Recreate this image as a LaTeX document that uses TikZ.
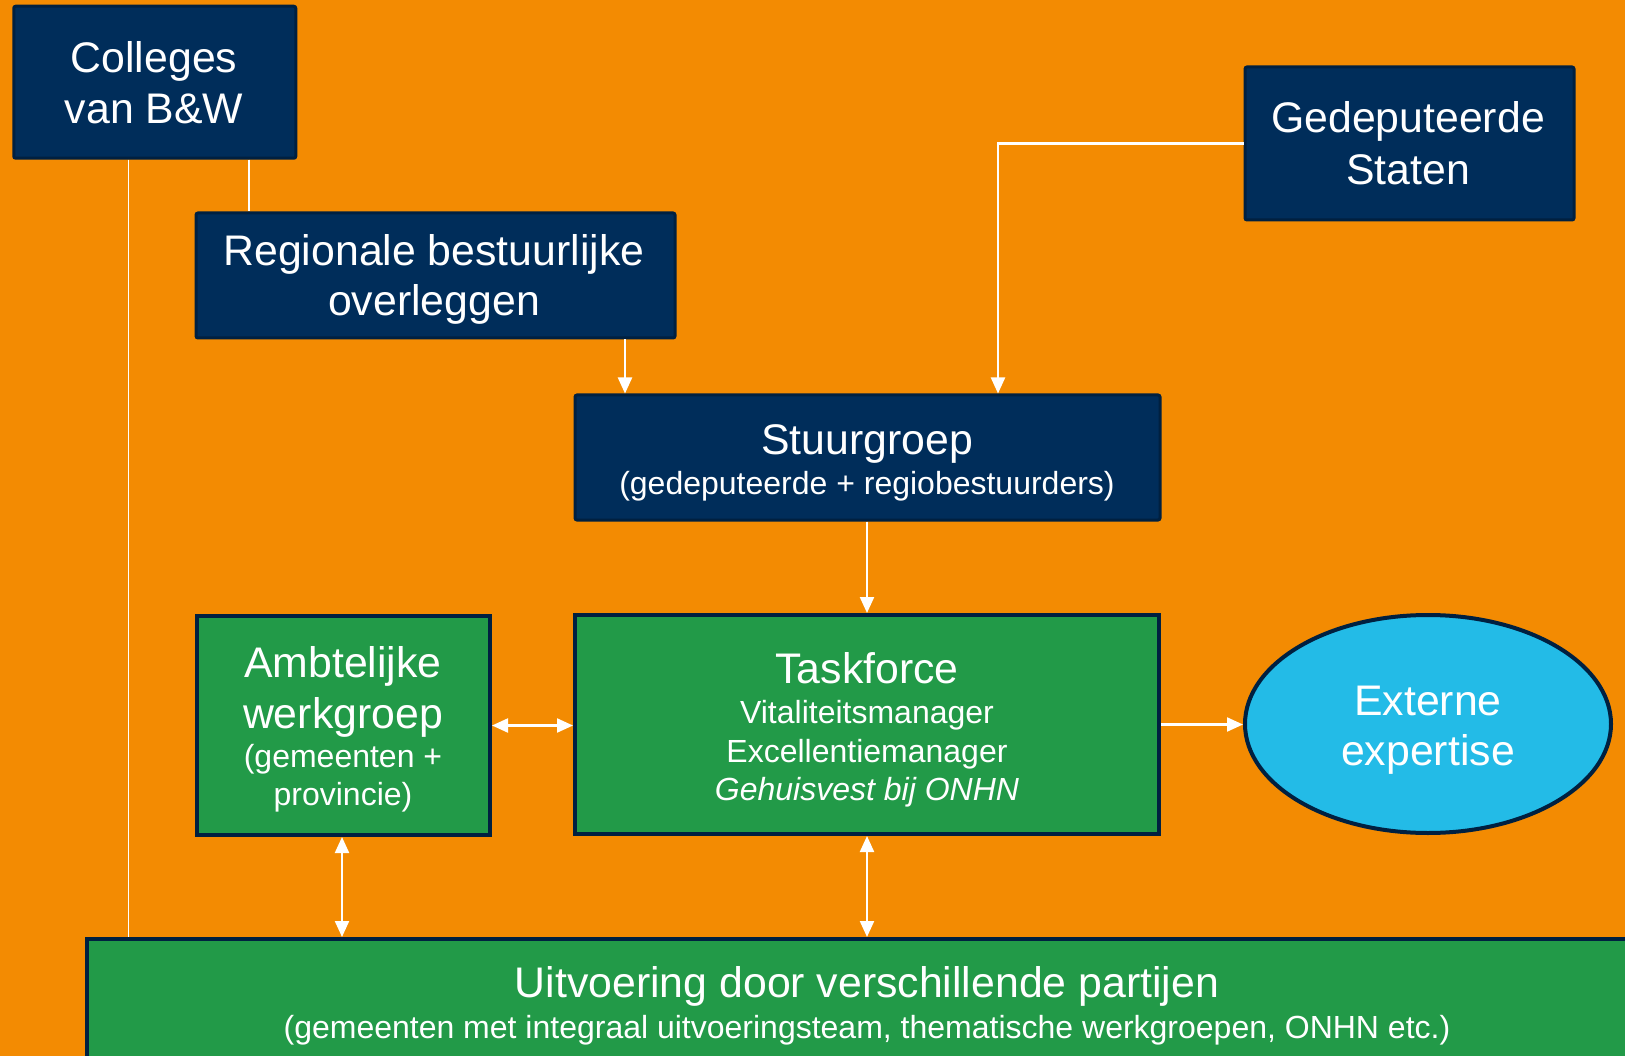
\documentclass[tikz,border=0pt]{standalone}
\usepackage{fontspec}
\setmainfont{Liberation Sans}
\usetikzlibrary{shapes.geometric,arrows.meta}
\definecolor{bgorange}{RGB}{243,139,2}
\definecolor{navyfill}{RGB}{0,45,90}
\definecolor{navyline}{RGB}{0,32,64}
\definecolor{boxgreen}{RGB}{34,154,72}
\definecolor{skyblue}{RGB}{35,187,231}
\tikzset{
  navybox/.style={rectangle, rounded corners=2pt, draw=navyline, line width=3pt, fill=navyfill, inner sep=0pt},
  greenbox/.style={rectangle, draw=navyline, line width=4pt, fill=boxgreen, inner sep=0pt},
  bigtxt/.style={text=white, anchor=base, inner sep=0pt, font=\fontsize{42.8}{50}\selectfont},
  smalltxt/.style={text=white, anchor=base, inner sep=0pt, font=\fontsize{32}{38}\selectfont},
  conn/.style={draw=white, line width=2.2pt, -{Triangle[width=14pt,length=16pt]}},
  dconn/.style={draw=white, line width=2.2pt, {Triangle[width=14pt,length=16pt]}-{Triangle[width=14pt,length=16pt]}},
  thinline/.style={draw=white, line width=1.6pt}
}
\begin{document}
\begin{tikzpicture}[x=1pt,y=-1pt]
\path[use as bounding box, fill=bgorange] (0,0) rectangle (1625,1056);
\clip (0,0) rectangle (1625,1056);

% boxes
\node[navybox, minimum width=282pt, minimum height=152pt] (col) at (154.75,82.25) {};
\node[navybox, minimum width=479pt, minimum height=125pt] (reg) at (435.5,275.5) {};
\node[navybox, minimum width=329pt, minimum height=153pt] (ged) at (1409.5,143.5) {};
\node[navybox, minimum width=585pt, minimum height=125pt] (stu) at (867.5,457.5) {};
\node[greenbox, minimum width=293pt, minimum height=219pt] (amb) at (343.5,725.5) {};
\node[greenbox, minimum width=584pt, minimum height=219pt] (task) at (867,724.5) {};
\node[ellipse, draw=navyline, line width=4pt, fill=skyblue, inner sep=0pt, minimum width=366pt, minimum height=218pt] (ext) at (1428,724) {};
\node[greenbox, minimum width=1560pt, minimum height=136pt] (uit) at (867,1007) {};

% texts
\node[bigtxt] (colA) at (154,73) {Colleges};
\node[bigtxt] (colB) at (154,124) {van B\&W};
\node[bigtxt] (regA) at (434,266) {Regionale bestuurlijke};
\node[bigtxt] (regB) at (434,316) {overleggen};
\node[bigtxt] (gedA) at (1408,133) {Gedeputeerde};
\node[bigtxt] (gedB) at (1408,185) {Staten};
\node[bigtxt] (stuA) at (867,454) {Stuurgroep};
\node[smalltxt] (stuB) at (867,494) {(gedeputeerde + regiobestuurders)};
\node[bigtxt] (ambA) at (343,677) {Ambtelijke};
\node[bigtxt] (ambB) at (343,728) {werkgroep};
\node[smalltxt] (ambC) at (343,767) {(gemeenten +};
\node[smalltxt] (ambD) at (343,805) {provincie)};
\node[bigtxt] (taskA) at (867,683) {Taskforce};
\node[smalltxt] (taskB) at (867,723) {Vitaliteitsmanager};
\node[smalltxt] (taskC) at (867,762) {Excellentiemanager};
\node[smalltxt] (taskD) at (867,800) {\itshape Gehuisvest bij ONHN};
\node[bigtxt] (extA) at (1428,715) {Externe};
\node[bigtxt] (extB) at (1428,765) {expertise};
\node[bigtxt] (uitA) at (867,997) {Uitvoering door verschillende partijen};
\node[smalltxt] (uitB) at (867,1038) {(gemeenten met integraal uitvoeringsteam, thematische werkgroepen, ONHN etc.)};

% connector x positions
\coordinate (xa) at (128.5,0);
\coordinate (xb) at (249,0);
\coordinate (xc) at (625,0);
\coordinate (xd) at (998,0);
\coordinate (xe) at (867,0);
\coordinate (xf) at (342,0);

% connectors
\draw[thinline] (col.south -| xa) -- (uit.north -| xa);
\draw[thinline] (col.south -| xb) -- (reg.north -| xb);
\draw[conn] (reg.south -| xc) -- (stu.north -| xc);
\draw[conn] (ged.west) -| (stu.north -| xd);
\draw[conn] (stu.south -| xe) -- (task.north -| xe);
\draw[dconn] (amb.east) -- (amb.east -| task.west);
\draw[conn] (task.east) -- (task.east -| ext.west);
\draw[dconn] (amb.south -| xf) -- (uit.north -| xf);
\draw[dconn] (task.south -| xe) -- (uit.north -| xe);
\end{tikzpicture}
\end{document}
